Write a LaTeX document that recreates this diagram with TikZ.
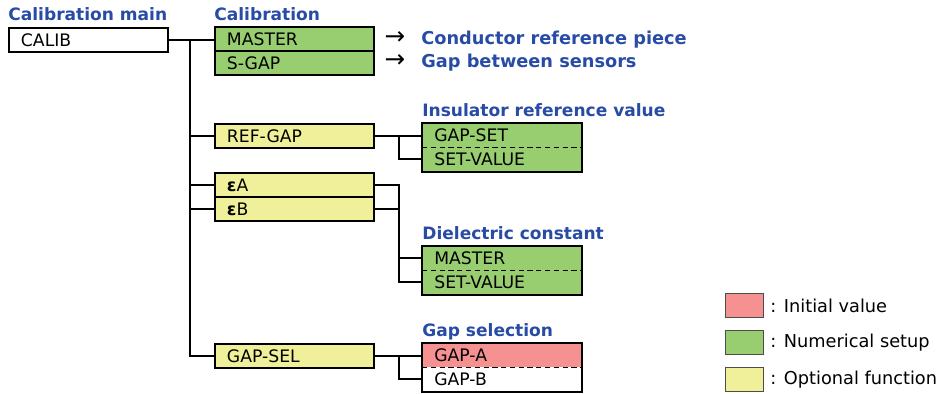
\documentclass[tikz,border=0pt]{standalone}
\usepackage{fontspec}
\setmainfont{DejaVu Sans}
\usetikzlibrary{positioning}
\definecolor{numgreen}{RGB}{152,206,112}
\definecolor{optyellow}{RGB}{240,240,155}
\definecolor{initred}{RGB}{245,145,145}
\definecolor{headblue}{RGB}{40,75,165}

\begin{document}
\begin{tikzpicture}[x=0.02cm,y=-0.02cm,font=\fontsize{9.8}{11}\selectfont,
  row/.style={anchor=north west, minimum height=0.48cm, text width=2.7cm,
    inner xsep=0.24cm, inner ysep=0pt, align=left, text height=1.6ex, text depth=0.3ex},
  box/.style={row, draw, line width=1.1pt},
  link/.style={line width=1.1pt},
  heading/.style={anchor=base west, inner sep=0pt, text=headblue,
    font=\fontsize{9.7}{11}\selectfont\bfseries},
  legbox/.style={draw=black!70, line width=0.6pt, anchor=north west,
    minimum width=0.76cm, minimum height=0.48cm},
  legtext/.style={inner sep=0pt, font=\fontsize{10.1}{12}\selectfont}]
\useasboundingbox (0,0) rectangle (942,394);

% headings
\node[heading] (hmain) at (8,21) {Calibration main};
\node[heading] (hcal) at (214,21) {Calibration};
\node[heading] (hins) at (422,117) {Insulator reference value};
\node[heading] (hdie) at (422,240) {Dielectric constant};
\node[heading] (hsel) at (422,337) {Gap selection};

% first level
\node[box] (calib) at (8,27) {CALIB};
\node[box, fill=numgreen] (master) at (214,26) {MASTER};
\node[box, fill=numgreen] (sgap) at (214,50) {S-GAP};
\node[box, fill=optyellow] (refgap) at (214,123) {REF-GAP};
\node[box, fill=optyellow] (epsa) at (214,172) {{\bfseries ε}A};
\node[box, fill=optyellow] (epsb) at (214,196) {{\bfseries ε}B};
\node[box, fill=optyellow] (gapsel) at (214,343) {GAP-SEL};

% notes
\node[inner sep=0pt, font=\fontsize{14}{14}\selectfont] (arrm) at (395,38) {→};
\node[heading, font=\fontsize{10.1}{12}\selectfont\bfseries] (descm) at (421,45) {Conductor reference piece};
\node[inner sep=0pt, font=\fontsize{14}{14}\selectfont] (arrs) at (395,61) {→};
\node[heading, font=\fontsize{10.1}{12}\selectfont\bfseries] (descs) at (421,68) {Gap between sensors};

% second level
\node[row, fill=numgreen] (gapset) at (422,123) {GAP-SET};
\node[row, fill=numgreen] (setvala) at (422,147) {SET-VALUE};
\node[row, fill=numgreen] (dmaster) at (422,246) {MASTER};
\node[row, fill=numgreen] (setvalb) at (422,270) {SET-VALUE};
\node[row, fill=initred] (gapa) at (422,343) {GAP-A};
\node[row] (gapb) at (422,367) {GAP-B};
\foreach \top/\bot in {gapset/setvala, dmaster/setvalb, gapa/gapb} {
  \draw[link] (\top.north west) rectangle (\bot.south east);
  \draw[line width=0.8pt, dash pattern=on 3pt off 2pt] (\top.south west) -- (\top.south east);
}

% connectors
\coordinate (trunk) at (190,39);
\draw[link] (calib.east) -- (calib.east -| master.west);
\draw[link] (trunk) |- (gapsel.west);
\draw[link] (trunk |- refgap.west) -- (refgap.west);
\draw[link] (trunk |- epsa.west) -- (epsa.west);
\draw[link] (trunk |- epsb.west) -- (epsb.west);

\path (refgap.east) ++(24,0) coordinate (forkref);
\draw[link] (refgap.east) -- (refgap.east -| gapset.west);
\draw[link] (forkref) |- (setvala.west);

\path (epsa.east) ++(24,0) coordinate (forkeps);
\draw[link] (epsa.east) -- (forkeps) |- (setvalb.west);
\draw[link] (epsb.east) -- (epsb.east -| forkeps);
\draw[link] (forkeps |- dmaster.west) -- (dmaster.west);

\path (gapsel.east) ++(24,0) coordinate (forkgap);
\draw[link] (gapsel.east) -- (gapsel.east -| gapa.west);
\draw[link] (forkgap) |- (gapb.west);

% legend
\node[legbox, fill=initred] (legred) at (725,293) {};
\node[legbox, fill=numgreen] (leggreen) at (725,330) {};
\node[legbox, fill=optyellow] (legyellow) at (725,367) {};
\node[legtext, right=0.12cm of legred] (txtred) {: Initial value};
\node[legtext, right=0.12cm of leggreen] (txtgreen) {: Numerical setup};
\node[legtext, right=0.12cm of legyellow] (txtyellow) {: Optional function};
\end{tikzpicture}
\end{document}
